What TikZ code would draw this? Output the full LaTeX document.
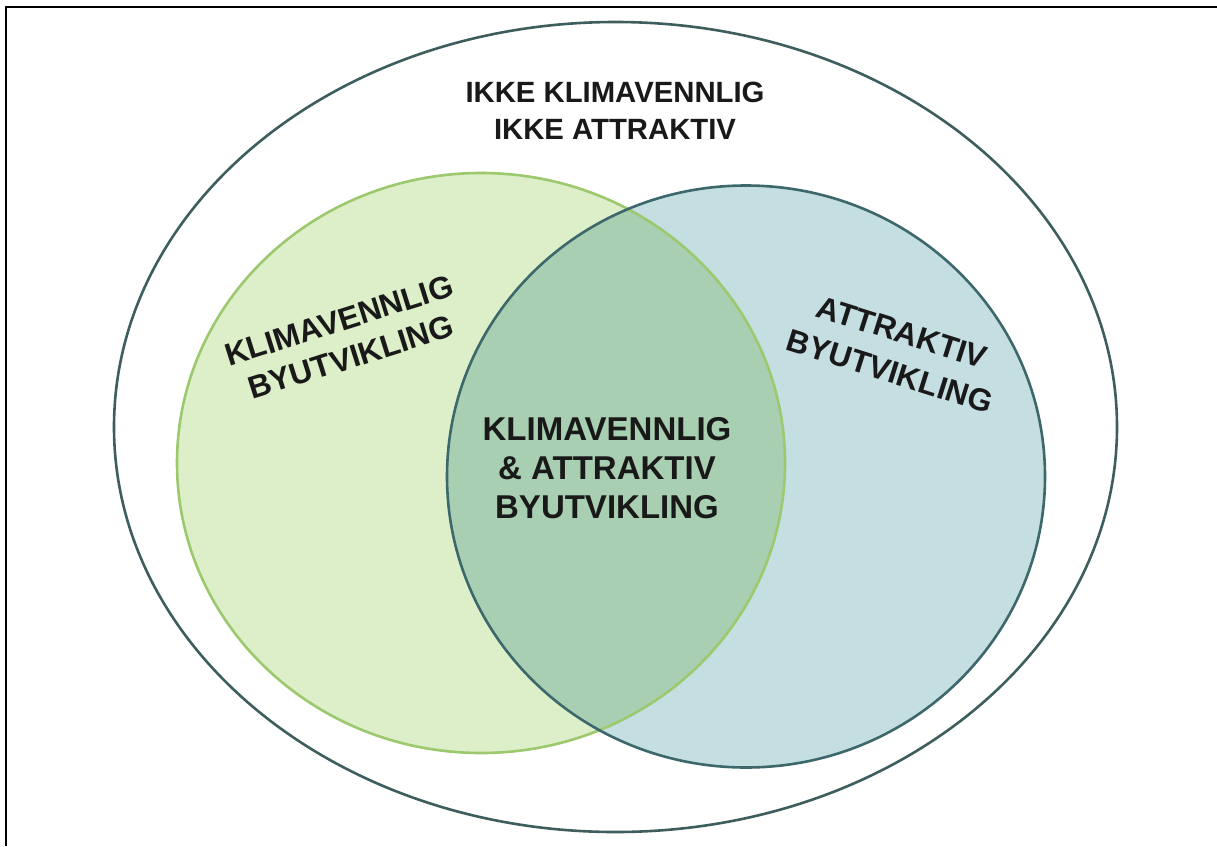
\documentclass[tikz,border=0pt]{standalone}
\usepackage{fontspec}
\setmainfont{Liberation Sans}
\begin{document}
\begin{tikzpicture}[x=1pt,y=-1pt,
  frameline/.style={line width=2.5pt,black},
  setline/.style={line width=2.6pt},
  label/.style={align=center,inner sep=0pt,text=black!90}]
\definecolor{outerline}{RGB}{62,94,94}
\definecolor{greenline}{RGB}{156,200,110}
\definecolor{greenfill}{RGB}{221,239,200}
\definecolor{blueline}{RGB}{60,104,108}
\definecolor{bluefill}{RGB}{197,222,225}
\definecolor{bothfill}{RGB}{169,207,178}
\useasboundingbox (0,0) rectangle (1217,846);
\fill[white] (0,0) rectangle (1217,846);

% frame along the top and left edges
\draw[frameline] (1217,7) -- (6,7) -- (6,846);

% outer set
\draw[setline,outerline] (615.5,427) ellipse [x radius=501.5, y radius=405];

% the two sets and their overlap
\fill[greenfill] (481,463) ellipse [x radius=304, y radius=290];
\fill[bluefill] (746,476.5) ellipse [x radius=299, y radius=291];
\begin{scope}
  \clip (481,463) ellipse [x radius=304, y radius=290];
  \fill[bothfill] (746,476.5) ellipse [x radius=299, y radius=291];
\end{scope}
\draw[setline,greenline] (481,463) ellipse [x radius=304, y radius=290];
\draw[setline,blueline] (746,476.5) ellipse [x radius=299, y radius=291];

% labels
\node[label,font=\bfseries\fontsize{29.3}{37}\selectfont] (outside) at (615,111)
  {IKKE KLIMAVENNLIG\\IKKE ATTRAKTIV};
\node[label,font=\bfseries\fontsize{31.5}{38.5}\selectfont,rotate=17.5] (klima) at (345,339)
  {KLIMAVENNLIG\\BYUTVIKLING};
\node[label,font=\bfseries\fontsize{31.5}{41}\selectfont,rotate=-17.5] (attr) at (896,352)
  {ATTRAKTIV\\BYUTVIKLING};
\node[label,font=\bfseries\fontsize{33}{39}\selectfont] (both) at (607,468)
  {KLIMAVENNLIG\\\& ATTRAKTIV\\BYUTVIKLING};
\end{tikzpicture}
\end{document}
